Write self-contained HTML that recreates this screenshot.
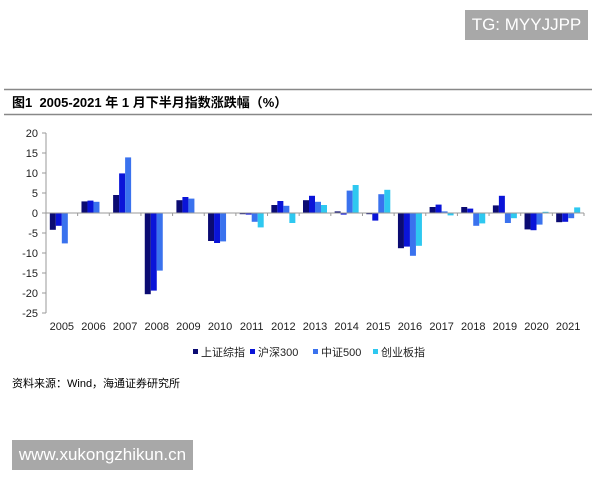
<!DOCTYPE html>
<html><head><meta charset="utf-8"><style>
body{margin:0;width:600px;height:480px;background:#fff;position:relative;overflow:hidden;font-family:"Liberation Sans","Noto Sans CJK SC",sans-serif}
.wm{position:absolute;background:#a8a8a8;color:#fff;font-size:17px;line-height:30px;white-space:nowrap;box-sizing:border-box;text-align:center}
</style></head><body>
<div class="wm" style="left:465px;top:10px;width:123px;height:30px">TG: MYYJJPP</div>
<div class="wm" style="left:12px;top:440px;width:181px;height:30px">www.xukongzhikun.cn</div>
<svg width="600" height="480" style="position:absolute;left:0;top:0" id="chart">
<line x1="4" y1="89.5" x2="592" y2="89.5" stroke="#888" stroke-width="1.5"/>
<text x="12" y="107" font-size="13" font-weight="bold" fill="#000" xml:space="preserve">图1  2005-2021 年 1 月下半月指数涨跌幅（%）</text>
<line x1="4" y1="114.5" x2="592" y2="114.5" stroke="#888" stroke-width="1.5"/>
<text x="12" y="387" font-size="11" fill="#000">资料来源：Wind，海通证券研究所</text>
</svg>
<script>
const categories=["2005","2006","2007","2008","2009","2010","2011","2012","2013","2014","2015","2016","2017","2018","2019","2020","2021"];
const seriesNames=["上证综指","沪深300","中证500","创业板指"];
const s1=[-4.2,2.9,4.5,-20.3,3.2,-7.0,-0.3,2.0,3.2,0.4,-0.3,-8.8,1.5,1.5,1.9,-4.1,-2.3];
const s2=[-3.2,3.1,9.9,-19.4,4.0,-7.5,-0.4,3.0,4.3,-0.4,-1.9,-8.4,2.1,1.1,4.3,-4.3,-2.2];
const s3=[-7.6,2.8,13.9,-14.4,3.6,-7.1,-2.2,1.8,2.8,5.6,4.7,-10.7,0.4,-3.2,-2.5,-2.9,-1.3];
const s4=[null,null,null,null,null,null,-3.6,-2.5,2.0,7.0,5.8,-8.2,-0.6,-2.6,-1.3,0.3,1.4];
const yTicks=[20,15,10,5,0,-5,-10,-15,-20,-25];
const series=[s1,s2,s3,s4];
const colors=["#0b0b72","#0a14d8","#3a72ee","#2ec8f0"];
const NS="http://www.w3.org/2000/svg";
const svg=document.getElementById('chart');
const x0=46,x1=584,yTop=133,yBot=313;
const yMax=20,yMin=-25;
function y(v){return yTop+(yMax-v)/(yMax-yMin)*(yBot-yTop);}
const gw=(x1-x0)/categories.length;
function xc(i){return x0+gw*(i+0.5);}
function mk(t,a){const e=document.createElementNS(NS,t);for(const k in a)e.setAttribute(k,a[k]);svg.appendChild(e);return e;}
let ax=mk('line',{x1:x0,y1:yTop,x2:x0,y2:yBot,stroke:'#999'});


yTicks.forEach(v=>{
 const tk=mk('line',{x1:x0-4,y1:y(v),x2:x0,y2:y(v),stroke:'#999'});
 
 
 const t=mk('text',{x:x0-8,y:y(v)+4,'font-size':11,'text-anchor':'end',fill:'#222'});
 t.textContent=v;
 
 
});
const bw=6;
series.forEach((s,si)=>{
 s.forEach((v,i)=>{
  if(v===null)return;
  const r=mk('rect',{x:xc(i)-12+si*bw,y:Math.min(y(v),y(0)),width:bw,height:Math.abs(y(v)-y(0)),fill:colors[si]});
  
  
 });
});
let zx=mk('line',{x1:x0,y1:y(0),x2:x1,y2:y(0),stroke:'#999'});


categories.forEach((c,i)=>{
 const tk=mk('line',{x1:x0+gw*(i+1),y1:y(0),x2:x0+gw*(i+1),y2:y(0)+3,stroke:'#999'});
 
 
 const t=mk('text',{x:xc(i),y:330,'font-size':11,'text-anchor':'middle',fill:'#222'});
 t.textContent=c;
 
 
});
const lx=[193,250,313,373];
seriesNames.forEach((n,si)=>{
 const r=mk('rect',{x:lx[si],y:349,width:5,height:5,fill:colors[si]});
 
 
 const t=mk('text',{x:lx[si]+8,y:356,'font-size':11,fill:'#222'});
 t.textContent=n;
 
 
});
</script>
</body></html>
